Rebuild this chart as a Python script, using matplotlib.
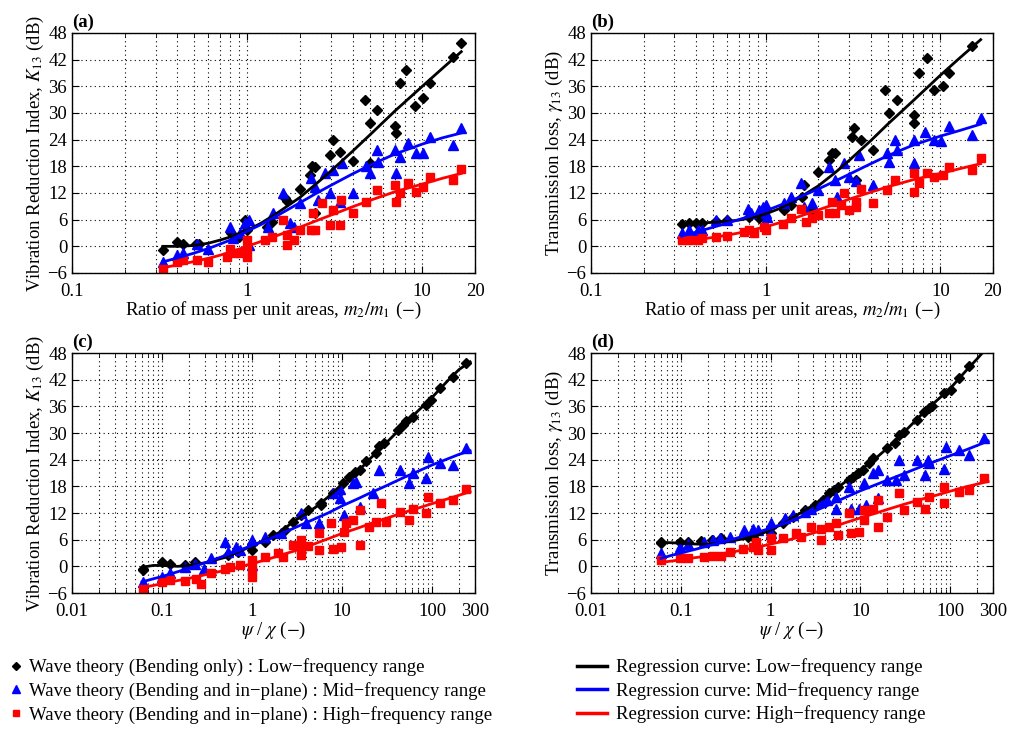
import matplotlib
matplotlib.use("Agg")
import matplotlib.pyplot as plt
from matplotlib.lines import Line2D
from matplotlib.ticker import FixedLocator, LogLocator, NullFormatter

plt.rcParams['font.family'] = ['Liberation Serif', 'DejaVu Serif']
plt.rcParams['mathtext.fontset'] = 'stix'

# ---------------- panel (a): K13 vs m2/m1 ----------------
a_low_x = [0.33, 0.40, 0.43, 0.51, 0.53, 0.81, 0.90, 1.0, 0.97, 1.29, 1.38, 1.64, 1.70, 2.0, 2.28,
           2.36, 2.45, 2.45, 2.97, 3.1, 3.4, 4.0, 4.7, 5.0, 5.5, 5.0, 7.0, 7.1, 7.5, 8.1, 9.1, 10.1,
           11.1, 15.0, 16.7]
a_low_y = [-0.9, 1.0, 0.6, 0.6, 0.5, 3.0, 2.0, 3.6, 6.0, 4.4, 5.5, 10.8, 10.2, 13.0, 16.0,
           18.0, 17.8, 7.4, 20.6, 24.0, 21.3, 19.1, 33.0, 27.7, 30.7, 18.7, 27.0, 25.5, 36.7, 39.7,
           31.5, 33.3, 36.7, 42.7, 45.7]
a_mid_x = [0.33, 0.40, 0.43, 0.52, 0.60, 0.80, 0.83, 0.91, 0.97, 1.02, 1.02, 1.32, 1.41, 1.61, 1.76,
           1.84, 2.0, 2.32, 2.45, 2.55, 2.80, 2.97, 3.1, 3.5, 3.4, 4.0, 4.8, 5.0, 5.5, 5.6, 7.0, 7.1,
           7.5, 8.3, 9.2, 10.1, 11.1, 15.0, 16.7]
a_mid_y = [-3.5, -2.0, -1.6, 0.6, -0.7, 4.4, 1.8, 3.0, 5.2, 6.0, 0.3, 4.4, 7.4, 11.9, 5.2,
           4.4, 9.7, 15.3, 13.4, 10.4, 16.4, 11.9, 17.2, 18.7, 10.0, 11.9, 18.0, 16.4, 21.7, 19.0,
           21.7, 16.4, 20.2, 23.2, 20.9, 20.9, 24.7, 22.8, 26.6]
a_high_x = [0.33, 0.40, 0.43, 0.52, 0.60, 0.77, 0.80, 0.84, 0.91, 1.0, 1.0, 1.0, 1.27, 1.38, 1.61,
            1.68, 1.68, 1.84, 2.0, 2.32, 2.38, 2.45, 2.69, 2.97, 3.1, 3.4, 3.45, 4.0, 4.8, 5.5,
            7.0, 7.1, 7.5, 8.3, 9.2, 10.1, 11.1, 15.0, 16.7]
a_high_y = [-5.0, -3.5, -3.1, -3.0, -3.5, -2.4, -0.5, -1.6, -1.6, 1.4, -0.5, -2.4, 1.4, 2.1, 5.9,
            2.5, 0.3, 1.4, 3.6, 3.6, 7.4, 3.6, 9.7, 4.8, 8.2, 4.8, 10.4, 7.4, 10.0, 12.7,
            13.8, 10.0, 11.9, 14.2, 12.3, 13.4, 15.7, 14.9, 17.5]
a_fit_x = [0.33, 0.4, 0.5, 0.6, 0.7, 0.8, 1.0, 1.2, 1.5, 2.0, 2.5, 3.0, 4.0, 5.0, 7.0, 10.0, 13.0, 16.7]
a_fit_low = [0.0, 0.0, 0.2, 0.7, 1.4, 2.1, 3.6, 5.2, 7.6, 11.0, 14.2, 16.9, 21.4, 25.0, 30.5, 36.0, 40.0, 43.8]
a_fit_mid = [-3.5, -2.6, -1.5, -0.5, 0.5, 1.4, 3.4, 4.9, 7.0, 9.8, 12.0, 13.7, 16.3, 18.2, 20.8, 23.0, 24.4, 25.5]
a_fit_high = [-4.8, -4.2, -3.4, -2.7, -2.0, -1.3, 0.0, 1.1, 2.5, 4.3, 5.8, 7.0, 8.9, 10.3, 12.3, 14.0, 15.3, 16.4]

# ---------------- panel (b): gamma13 vs m2/m1 ----------------
b_low_x = [0.33, 0.365, 0.40, 0.43, 0.52, 0.60, 0.80, 0.92, 0.98, 1.27, 1.39, 1.62, 1.66, 1.85, 2.0,
           2.3, 2.4, 2.5, 3.1, 3.2, 3.5, 3.3, 4.1, 4.8, 5.1, 5.65, 7.1, 7.1, 7.5, 8.4, 9.2, 10.3,
           11.2, 15.2]
b_low_y = [5.1, 5.3, 5.3, 5.3, 5.7, 6.0, 6.6, 6.3, 7.0, 8.2, 9.3, 11.2, 13.8, 8.2, 16.8,
           19.4, 20.9, 20.9, 24.7, 26.6, 24.0, 14.9, 21.7, 35.2, 30.0, 33.0, 29.6, 27.7, 39.0, 42.4,
           35.2, 36.0, 39.0, 45.0]
b_mid_x = [0.33, 0.365, 0.41, 0.43, 0.52, 0.60, 0.79, 0.82, 0.92, 0.96, 1.0, 1.02, 1.0, 1.27, 1.39,
           1.59, 1.66, 1.85, 2.0, 2.3, 2.5, 2.57, 2.8, 3.0, 3.4, 3.3, 4.1, 4.95, 5.1, 5.5, 5.65,
           7.1, 7.1, 8.2, 9.2, 10.1, 11.2, 15.2, 17.0]
b_mid_y = [2.9, 3.6, 3.6, 3.6, 5.9, 5.9, 8.5, 7.4, 8.2, 8.9, 9.3, 6.6, 7.4, 9.7, 11.2,
           14.2, 8.9, 9.7, 12.7, 17.9, 14.9, 11.2, 18.7, 15.7, 20.6, 14.6, 13.8, 20.9, 19.0, 24.0, 21.7,
           24.0, 18.7, 25.8, 24.0, 23.6, 27.0, 25.0, 28.8]
b_high_x = [0.33, 0.365, 0.41, 0.43, 0.52, 0.60, 0.75, 0.80, 0.86, 0.98, 1.0, 1.25, 1.39, 1.59, 1.69,
            1.85, 2.0, 2.3, 2.4, 2.5, 2.7, 2.8, 3.0, 3.3, 3.3, 3.5, 4.1, 4.95, 5.5, 7.1, 7.1,
            7.5, 8.4, 9.2, 10.3, 11.2, 15.2, 17.0]
b_high_y = [1.4, 1.5, 1.5, 1.8, 2.1, 2.3, 3.3, 3.6, 2.9, 4.4, 3.6, 5.1, 6.3, 8.5, 5.5,
            6.3, 7.0, 7.4, 10.0, 7.4, 9.3, 11.9, 8.2, 10.0, 8.9, 13.0, 9.7, 12.7, 14.9, 16.4, 12.3,
            14.2, 16.4, 15.7, 16.0, 17.9, 17.2, 19.8]
b_fit_x = [0.33, 0.4, 0.5, 0.6, 0.7, 0.8, 1.0, 1.2, 1.5, 2.0, 2.5, 3.0, 4.0, 5.0, 7.0, 10.0, 13.0, 17.0]
b_fit_low = [5.1, 5.2, 5.4, 5.6, 5.9, 6.3, 7.3, 8.5, 10.5, 13.6, 16.6, 19.3, 23.8, 27.5, 32.8, 38.5, 42.5, 46.5]
b_fit_mid = [2.3, 3.2, 4.3, 5.2, 6.0, 6.7, 8.0, 9.2, 10.8, 12.9, 14.7, 16.2, 18.6, 20.4, 22.8, 24.8, 26.1, 27.5]
b_fit_high = [1.2, 1.5, 2.0, 2.5, 3.0, 3.5, 4.4, 5.3, 6.5, 8.2, 9.5, 10.6, 12.2, 13.4, 15.0, 16.4, 17.5, 18.6]

# ---------------- panel (c): K13 vs psi/chi ----------------
c_low_x = [0.061, 0.061, 0.1, 0.122, 0.18, 0.23, 0.54, 0.70, 1.0, 1.0, 1.38, 1.71, 2.3, 2.85, 3.5,
           4.2, 5.9, 5.9, 7.9, 10.2, 12.1, 13.8, 15.7, 18.5, 23.9, 26.0, 29.6, 41.7, 47.0, 51.0,
           61.0, 85.0, 97.0, 121.0, 169.0, 237.0]
c_low_y = [-0.9, -0.5, 1.0, 0.6, 0.3, 1.0, 2.5, 3.3, 5.1, 3.6, 5.5, 7.0, 8.2, 10.0, 11.5,
           12.7, 13.8, 14.2, 16.4, 18.7, 20.2, 21.3, 21.7, 23.6, 25.4, 27.0, 27.7, 30.7, 31.8, 32.6,
           33.7, 36.3, 37.5, 40.1, 42.7, 45.7]
c_mid_x = [0.061, 0.1, 0.122, 0.18, 0.23, 0.29, 0.35, 0.50, 0.54, 0.67, 0.73, 1.0, 1.0, 1.38, 2.1,
           3.5, 4.0, 5.6, 7.9, 9.4, 9.4, 10.6, 13.2, 14.3, 15.7, 22.0, 26.0, 43.6, 56.0, 61.0,
           85.0, 90.0, 121.0, 169.0, 237.0]
c_mid_y = [-3.5, -2.4, -1.6, -0.1, 0.6, -0.7, 1.8, 5.5, 3.3, 4.4, 3.6, 5.9, 0.3, 6.6, 7.4,
           11.9, 9.7, 9.7, 16.4, 17.5, 15.3, 11.5, 18.7, 19.0, 13.4, 16.4, 21.7, 21.7, 18.7, 20.9,
           19.8, 24.7, 23.2, 22.8, 26.6]
c_high_x = [0.061, 0.1, 0.122, 0.18, 0.24, 0.27, 0.35, 0.50, 0.57, 0.73, 1.0, 1.0, 1.0, 1.38, 1.94,
            2.2, 2.85, 3.5, 3.5, 3.5, 4.2, 5.6, 5.6, 7.6, 7.9, 9.8, 10.6, 11.1, 13.2, 15.7, 15.7,
            20.0, 23.9, 26.9, 30.8, 43.6, 56.0, 61.0, 85.0, 90.0, 121.0, 169.0, 237.0]
c_high_y = [-5.0, -3.5, -3.1, -3.3, -2.8, -3.9, -1.5, -0.5, -0.1, 0.3, 1.4, -0.5, -2.4, 2.1, 2.9,
            2.1, 4.8, 4.4, 2.5, 5.9, 4.5, 7.4, 3.6, 9.7, 4.0, 4.4, 7.8, 9.7, 10.4, 12.7, 4.8,
            8.9, 10.0, 14.2, 10.0, 12.3, 10.4, 13.0, 11.9, 15.7, 14.2, 14.9, 17.5]
cd_fit_x = [0.06, 0.08, 0.1, 0.15, 0.2, 0.3, 0.5, 0.7, 1, 1.5, 2, 3, 5, 7, 10, 15, 20, 30, 50, 70,
            100, 150, 200, 265]
c_fit_low = [-0.2, 0.2, 0.2, 0.0, 0.2, 0.8, 2.0, 3.2, 4.6, 6.2, 7.6, 10.3, 13.2, 15.6, 18.5, 21.3,
             24.0, 27.5, 32.0, 35.0, 38.0, 41.8, 44.3, 46.0]
c_fit_mid = [-3.5, -2.8, -2.3, -1.2, -0.4, 0.8, 2.4, 3.5, 4.7, 6.0, 7.1, 8.7, 10.7, 12.0, 13.6, 15.2,
             16.4, 18.0, 20.1, 21.4, 22.8, 24.2, 25.2, 26.0]
c_fit_high = [-4.8, -4.3, -3.9, -3.2, -2.7, -1.9, -0.9, -0.2, 0.6, 1.6, 2.4, 3.5, 5.1, 6.2, 7.4, 8.6,
              9.5, 10.7, 12.2, 13.1, 14.1, 15.2, 16.0, 16.8]

# ---------------- panel (d): gamma13 vs psi/chi ----------------
d_low_x = [0.060, 0.060, 0.098, 0.12, 0.17, 0.22, 0.28, 0.56, 0.64, 1.0, 1.0, 1.37, 1.77, 2.4, 3.1,
           3.8, 4.5, 5.1, 5.6, 7.5, 8.2, 9.3, 10.6, 12.6, 13.7, 20.0, 24.0, 27.0, 30.6, 43.0,
           51.0, 58.0, 63.0, 85.0, 101.0, 125.0, 162.0]
d_low_y = [5.3, 5.5, 5.5, 5.4, 5.7, 5.9, 6.3, 6.6, 6.6, 7.4, 8.9, 9.7, 11.2, 12.7, 13.8,
           14.9, 16.4, 17.2, 17.9, 19.4, 20.2, 20.9, 21.7, 23.2, 24.3, 26.6, 27.7, 29.6, 30.3, 33.0,
           34.8, 35.6, 36.0, 39.0, 39.7, 42.4, 45.0]
d_mid_x = [0.060, 0.098, 0.12, 0.18, 0.23, 0.27, 0.35, 0.51, 0.64, 0.72, 1.0, 1.0, 1.43, 1.77, 2.4,
           2.83, 3.65, 4.3, 5.35, 5.35, 7.5, 7.9, 9.7, 11.1, 11.5, 13.7, 15.6, 15.6, 20.0, 25.0,
           27.0, 30.6, 43.0, 53.0, 56.0, 58.0, 85.0, 89.0, 125.0, 162.0, 240.0]
d_mid_y = [2.9, 4.4, 5.1, 5.5, 5.9, 6.3, 6.6, 8.2, 8.5, 8.2, 9.7, 7.4, 10.8, 11.5, 12.3,
           13.0, 14.5, 14.9, 15.7, 13.0, 17.9, 13.0, 13.0, 18.7, 13.8, 20.9, 21.7, 15.3, 19.4, 19.4,
           24.0, 20.6, 24.0, 20.6, 24.0, 23.2, 22.0, 26.9, 26.2, 25.0, 28.8]
d_high_x = [0.060, 0.098, 0.12, 0.18, 0.23, 0.28, 0.35, 0.49, 0.64, 0.69, 0.72, 1.0, 1.0, 1.37, 1.93,
            2.2, 2.83, 3.65, 3.65, 4.5, 5.35, 5.6, 7.5, 7.9, 9.7, 11.1, 11.1, 13.7, 15.6, 15.6,
            20.0, 27.0, 30.6, 43.0, 53.0, 58.0, 85.0, 85.0, 125.0, 162.0, 240.0]
d_high_y = [1.4, 1.8, 1.8, 2.0, 2.3, 2.4, 3.3, 3.8, 4.4, 5.5, 3.6, 6.3, 3.6, 6.3, 7.4,
            6.6, 8.9, 5.9, 8.5, 8.9, 9.7, 7.0, 11.9, 7.4, 7.8, 10.4, 12.7, 13.0, 8.9, 15.0,
            11.2, 16.4, 12.7, 14.5, 13.0, 15.7, 17.9, 14.2, 16.8, 17.2, 19.8]
d_fit_low = [5.4, 5.3, 5.2, 5.0, 5.0, 5.4, 6.2, 6.9, 8.2, 10.0, 11.6, 13.8, 17.0, 19.2, 21.6, 24.4,
             26.6, 30.0, 34.5, 37.2, 40.0, 44.0, 46.7, 49.5]
d_fit_mid = [1.8, 2.5, 3.0, 3.9, 4.6, 5.5, 6.8, 7.6, 8.6, 9.8, 10.8, 12.3, 14.3, 15.6, 17.0, 18.4,
             19.4, 20.8, 22.6, 23.7, 24.9, 26.2, 27.2, 28.2]
d_fit_high = [0.9, 1.2, 1.5, 2.0, 2.3, 2.9, 3.7, 4.3, 5.0, 5.8, 6.5, 7.5, 8.9, 9.9, 10.9, 12.0,
              12.8, 13.9, 15.2, 16.0, 16.9, 17.9, 18.5, 19.1]

y_ticks = [-6, 0, 6, 12, 18, 24, 30, 36, 42, 48]
ab_xticks = [0.1, 1, 10, 20]
ab_xlabels = ['0.1', '1', '10', '20']
cd_xticks = [0.01, 0.1, 1, 10, 100, 300]
cd_xlabels = ['0.01', '0.1', '1', '10', '100', '300']

legend_labels = [
    'Wave theory (Bending only) : Low\u2212frequency range',
    'Wave theory (Bending and in\u2212plane) : Mid\u2212frequency range',
    'Wave theory (Bending and in\u2212plane) : High\u2212frequency range',
    'Regression curve: Low\u2212frequency range',
    'Regression curve: Mid\u2212frequency range',
    'Regression curve: High\u2212frequency range',
]

FS = 13.5


def draw_panel(ax, tag, pts, fit_x, fits, xlim, xticks, xlabels, xlabel, ylabel):
    """Scatter the three data sets, overlay regression curves, MATLAB-like axes."""
    styles = [('k', 'D', 5.0), ('b', '^', 7.0), ('r', 's', 5.5)]
    for (x, y), (c, m, ms) in zip(pts, styles):
        ax.plot(x, y, linestyle='none', marker=m, color=c, markersize=ms)
    for fy, (c, m, ms) in zip(fits, styles):
        ax.plot(fit_x, fy, color=c, linewidth=2)
    ax.set_xscale('log')
    ax.set_xlim(xlim)
    ax.set_ylim(-6, 48)
    ax.set_yticks(y_ticks)
    ax.set_yticklabels(['\u22126'] + [str(v) for v in y_ticks[1:]])
    ax.xaxis.set_major_locator(FixedLocator(xticks))
    ax.set_xticklabels(xlabels)
    ax.xaxis.set_minor_locator(LogLocator(base=10, subs=range(2, 10), numticks=20))
    ax.xaxis.set_minor_formatter(NullFormatter())
    grid_style = dict(linestyle=(0, (1, 3)), color='k', linewidth=0.8)
    ax.grid(True, which='both', axis='x', **grid_style)
    ax.grid(True, which='major', axis='y', **grid_style)
    ax.tick_params(which='both', direction='in', top=True, right=True, labelsize=FS)
    ax.tick_params(which='major', length=5)
    ax.tick_params(which='minor', length=3)
    ax.tick_params(axis='x', which='major', pad=7)
    for s in ax.spines.values():
        s.set_linewidth(1.0)
    ax.set_xlabel(xlabel, fontsize=FS, labelpad=0)
    ax.set_ylabel(ylabel, fontsize=FS, labelpad=1)
    ax.text(0.0, 1.01, tag, transform=ax.transAxes, fontsize=FS, fontweight='bold',
            ha='left', va='bottom')


fig = plt.figure(figsize=(10.13, 7.29), dpi=100)
W, H = 1013, 729
def box(l, t, r, b):
    return [l / W, 1 - b / H, (r - l) / W, (b - t) / H]

ax_a = fig.add_axes(box(72, 33, 475, 273))
ax_b = fig.add_axes(box(591, 33, 993, 273))
ax_c = fig.add_axes(box(72, 353, 475, 593))
ax_d = fig.add_axes(box(591, 353, 993, 593))

k_label = r'Vibration Reduction Index, $K_{13}$ (dB)'
g_label = r'Transmission loss, $\gamma_{13}$ (dB)'
m_label = r'Ratio of mass per unit areas, $m_2/m_1$ ($-$)'
p_label = r'$\psi$ / $\chi$ ($-$)'

draw_panel(ax_a, '(a)', [(a_low_x, a_low_y), (a_mid_x, a_mid_y), (a_high_x, a_high_y)],
           a_fit_x, [a_fit_low, a_fit_mid, a_fit_high], (0.1, 20), ab_xticks, ab_xlabels,
           m_label, k_label)
draw_panel(ax_b, '(b)', [(b_low_x, b_low_y), (b_mid_x, b_mid_y), (b_high_x, b_high_y)],
           b_fit_x, [b_fit_low, b_fit_mid, b_fit_high], (0.1, 20), ab_xticks, ab_xlabels,
           m_label, g_label)
draw_panel(ax_c, '(c)', [(c_low_x, c_low_y), (c_mid_x, c_mid_y), (c_high_x, c_high_y)],
           cd_fit_x, [c_fit_low, c_fit_mid, c_fit_high], (0.01, 300), cd_xticks, cd_xlabels,
           p_label, k_label)
draw_panel(ax_d, '(d)', [(d_low_x, d_low_y), (d_mid_x, d_mid_y), (d_high_x, d_high_y)],
           cd_fit_x, [d_fit_low, d_fit_mid, d_fit_high], (0.01, 300), cd_xticks, cd_xlabels,
           p_label, g_label)

# legends below the panels
marker_handles = [Line2D([], [], linestyle='none', marker='D', color='k', markersize=4),
                  Line2D([], [], linestyle='none', marker='^', color='b', markersize=5.5),
                  Line2D([], [], linestyle='none', marker='s', color='r', markersize=4)]
line_handles = [Line2D([], [], color=c, linewidth=2.5) for c in ('k', 'b', 'r')]

fig.legend(marker_handles, legend_labels[:3], loc='upper left', bbox_to_anchor=(0.003, 1 - 651 / H),
           frameon=False, fontsize=13.5, handlelength=0.6, handletextpad=0.4, labelspacing=0.3,
           borderaxespad=0)
fig.legend(line_handles, legend_labels[3:], loc='upper left', bbox_to_anchor=(0.562, 1 - 651 / H),
           frameon=False, fontsize=13.5, handlelength=1.6, handletextpad=0.5, labelspacing=0.3,
           borderaxespad=0)

fig.savefig('out.png', dpi=100)
